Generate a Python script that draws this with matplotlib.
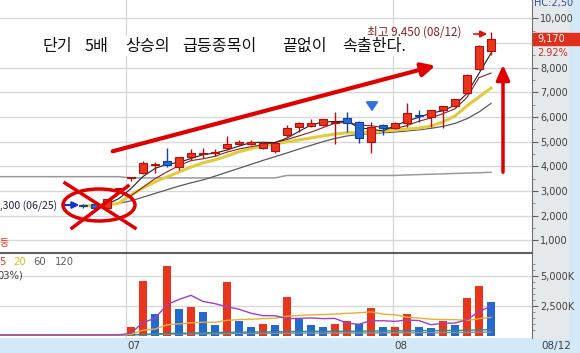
import numpy as np
import pandas as pd
import matplotlib
matplotlib.use("Agg")
import matplotlib.pyplot as plt
from matplotlib.patches import Ellipse, Rectangle

plt.rcParams['font.family'] = ['Noto Sans CJK KR', 'DejaVu Sans']

nan = np.nan
# one entry per trading day, 06/10 .. 08/12 (index 0..41)
opens = [nan]*7 + [2450, 2470, 2311, 3075, 3540, 3742, 4040, 4229, 3961, 4366, 4480, 4530, 4740, 4905, 4905,
                   4756, 4634, 5270, 5582, 5636, 5675, 5760, 5947, 5810, 4999, 5675, 5542, 5744, 6060, 6013,
                   6283, 6445, 6985, 7945, 8687]
highs = [nan]*7 + [2480, 2480, 2690, 3075, 3540, 4200, 4188, 4731, 4380, 4690, 4731, 4700, 5220, 5050, 5050,
                   4960, 4990, 5675, 5780, 5920, 5930, 6200, 6215, 5830, 5810, 5700, 5800, 6555, 6283, 6300,
                   6460, 6740, 7743, 8900, 9450]
lows = [nan]*7 + [2300, 2310, 2300, 3075, 3400, 3700, 3718, 3985, 3852, 4257, 4326, 4400, 4650, 4850, 4880,
                  4700, 4550, 5200, 5400, 5600, 5650, 4900, 5404, 4934, 4528, 5270, 5500, 5607, 5810, 5607,
                  5542, 6400, 6950, 7900, 8513]
closes = [nan]*7 + [2400, 2330, 2676, 3075, 3540, 4147, 4060, 4054, 4366, 4529, 4520, 4560, 4900, 5000, 4990,
                    4932, 4960, 5542, 5744, 5744, 5906, 5800, 5769, 5136, 5607, 5566, 5769, 6174, 6020, 6283,
                    6445, 6717, 7702, 8877, 9170]

ma3 = [nan]*9 + [2469, 2694, 3097, 3587, 3914, 4085, 4158, 4316, 4472, 4536, 4660, 4820, 4963, 4974, 4961,
                 5145, 5415, 5677, 5798, 5817, 5825, 5568, 5504, 5436, 5647, 5836, 5988, 6159, 6249, 6482,
                 6955, 7765, 8583]
ma5 = [nan]*11 + [2804, 3154, 3498, 3774, 4032, 4230, 4305, 4406, 4575, 4702, 4794, 4876, 4968, 5085, 5234,
                  5384, 5568, 5747, 5793, 5671, 5644, 5576, 5529, 5652, 5827, 5962, 6138, 6328, 6793, 7591, 7782]
ma20 = [nan]*7 + [2400, 2400, 2430, 2510, 2840, 3120, 3370, 3570, 3770, 3970, 4140, 4260, 4420, 4590, 4710,
                  4830, 4910, 4990, 5070, 5150, 5230, 5310, 5360, 5360, 5390, 5430, 5470, 5510, 5550, 5630,
                  5800, 6040, 6450, 6810, 7170]
ma60 = [nan]*10 + [2500, 2600, 2750, 2900, 3050, 3200, 3330, 3450, 3600, 3760, 3920, 4080, 4240, 4390, 4540,
                   4700, 4850, 5000, 5130, 5230, 5290, 5330, 5360, 5390, 5430, 5480, 5540, 5620, 5740, 5930,
                   6200, 6550]
ma120 = [3580]*11 + [3530]*13 + [3630]*10 + [3650, 3665, 3680, 3695, 3710, 3725, 3740, 3760]

# volume in thousand shares
volume = [40, 40, 40, 40, 40, 40, 40, 45, 50, 100, 60, 680, 4580, 1810, 5870, 2230, 2420, 2000, 880, 4530,
          1250, 715, 970, 880, 3270, 1390, 880, 680, 970, 1250, 970, 2340, 680, 715, 1810, 740, 600, 1250,
          850, 3180, 4170, 2850]
vol_ma60 = [40]*11 + [60, 100, 120, 170, 190, 210, 230, 240, 270, 280, 290, 300, 305, 330, 340, 345, 350,
                      355, 360, 365, 380, 385, 390, 400, 405, 410, 420, 425, 445, 470, 490]
vol_ma120 = [50]*11 + [55, 75, 85, 115, 125, 135, 145, 150, 165, 170, 175, 180, 185, 195, 200, 205, 205,
                       210, 215, 215, 225, 225, 230, 235, 240, 240, 245, 250, 260, 275, 285]

month_pos = [10.58, 32.83]
month_labels = ['07', '08']
price_ticks = [1000, 2000, 3000, 4000, 5000, 6000, 7000, 8000, 9000, 10000]
vol_ticks = [2500, 5000]

x = np.arange(len(volume))
o, h, l, c = (np.array(a, dtype=float) for a in (opens, highs, lows, closes))
vol = np.array(volume, dtype=float)

RED = '#e8351c'
BLUE = '#2468d2'
W, H = 580, 353

fig = plt.figure(figsize=(5.8, 3.53), dpi=100)
fig.patch.set_facecolor('#d3e9f8')
# light grey strip behind the right-hand scale
fig.patches.append(Rectangle((532 / W, 1 - 338 / H), 36 / W, 338 / H, transform=fig.transFigure,
                             color='#e6e9ec', zorder=-5))

axp = fig.add_axes([0, 1 - 253 / H, 532 / W, 253 / H])
axv = fig.add_axes([0, 1 - 338 / H, 532 / W, 85 / H])
for ax in (axp, axv):
    ax.set_xlim(0.083, 44.42)
    ax.set_facecolor('white')
    ax.tick_params(axis='x', bottom=False, labelbottom=False)
    ax.yaxis.tick_right()
    ax.tick_params(axis='y', direction='out', length=4, color='#606060', labelsize=7,
                   labelcolor='#404040', pad=2)
    for s in ('left', 'top', 'bottom'):
        ax.spines[s].set_visible(False)
    ax.spines['right'].set_color('#707070')
    for m in month_pos:
        ax.axvline(m, color='#d8d8d8', lw=1, zorder=0)

# price panel (the 9,000 label sits under the current-price box)
axp.set_ylim(486, 10742)
axp.set_yticks(price_ticks)
axp.set_yticklabels(['' if t == 9000 else f'{t:,}' for t in price_ticks], family='DejaVu Sans')
axp.set_yticks(np.arange(1500, 10500, 1000), minor=True)
axp.tick_params(axis='y', which='minor', length=2, color='#808080')
for t in price_ticks:
    if t == 9000:
        axp.axhline(t, xmin=0.93, color='#d8d8d8', lw=1, zorder=0)
    else:
        axp.axhline(t, color='#d8d8d8', lw=1, zorder=0)

axp.plot(x, ma120, color='#9a9a9a', lw=1.1, zorder=2)
axp.plot(x, ma60, color='#5a5a5a', lw=0.9, zorder=2)
axp.plot(x, ma20, color='#e2cc3c', lw=2.2, zorder=2)
axp.plot(x, ma5, color='#8a2020', lw=0.8, zorder=2)
axp.plot(x, ma3, color='#202020', lw=0.8, zorder=2)

up = c >= o
cols = np.where(up, RED, BLUE)
edges = np.where(up, '#b01010', '#1040a0')
axp.vlines(x, l, h, colors=edges, lw=1, zorder=3)
body = np.maximum(np.abs(c - o), 40)
axp.bar(x, body, bottom=np.minimum(o, c), width=0.72, color=cols, edgecolor=edges, lw=0.8, zorder=4)

# volume panel
axv.set_ylim(-210, 6944)
axv.set_yticks(vol_ticks)
axv.set_yticklabels(['2,500K', '5,000K'], family='DejaVu Sans')
axv.set_yticks(np.arange(500, 6500, 500), minor=True)
axv.tick_params(axis='y', which='minor', length=2, color='#808080')
for t in vol_ticks:
    axv.axhline(t, color='#d8d8d8', lw=1, zorder=0)
axv.spines['top'].set_visible(True)
axv.spines['top'].set_color('#606060')
axv.spines['top'].set_linewidth(1.5)
vcol = [BLUE] + [RED if vol[i] > vol[i - 1] else BLUE for i in range(1, len(vol))]
axv.bar(x, vol, width=0.72, color=vcol, edgecolor='none', zorder=2)
vs = pd.Series(vol)
axv.plot(x, vol_ma120, color='#8c8c8c', lw=1, zorder=3)
axv.plot(x, vol_ma60, color='#2b8c8c', lw=1, zorder=3)
axv.plot(x, vs.rolling(20, min_periods=1).mean(), color='#e8b030', lw=1, zorder=3)
axv.plot(x, vs.rolling(5, min_periods=1).mean(), color='#a040c0', lw=1, zorder=3)

leg_y = 1 - 9 / 85
for txt, px, col in [('5', -1, RED), ('20', 13, '#d4bc20'), ('60', 33, '#606060'), ('120', 55, '#606060')]:
    axv.text(px / 532, leg_y, txt, color=col, fontsize=7.2, transform=axv.transAxes, va='center',
             family='DejaVu Sans')
axv.text(-3 / 532, 1 - 22 / 85, '03%)', color='#404040', fontsize=7.2, transform=axv.transAxes,
         va='center', family='DejaVu Sans')

# date labels on the bottom strip
for m, lab in zip(month_pos, month_labels):
    fig.text((m * 12 - 1) / W + 0.002, 1 - 346 / H, lab, fontsize=7.5, color='#404040',
             va='center', family='DejaVu Sans')
fig.text(541 / W, 1 - 346 / H, '08/12', fontsize=7.5, color='#404040', va='center', family='DejaVu Sans')

# current price box
fig.patches.append(Rectangle((533 / W, 1 - 45 / H), 47 / W, 12 / H, transform=fig.transFigure,
                             color='#e0301c', zorder=5))
fig.text(537 / W, 1 - 39 / H, '9,170', color='white', fontsize=7, va='center', family='DejaVu Sans',
         zorder=6)
fig.text(537 / W, 1 - 52.5 / H, '2.92%', color='#c83020', fontsize=7, va='center', family='DejaVu Sans')
fig.text(534 / W, 1 - 3 / H, 'HC:2,50', color='#3050a0', fontsize=7, va='center', family='DejaVu Sans')

# headline and annotations
words = ['단기', '5배', '상승의', '급등종목이', '끝없이', '속출한다.']
starts = [42, 85, 125, 182, 282, 342]
for wd, sx in zip(words, starts):
    axp.text(sx / 532, 1 - 46 / 253, wd, fontsize=11.6, color='#111111', va='center', ha='left',
             transform=axp.transAxes, zorder=8,
             bbox=dict(boxstyle='square,pad=0.12', facecolor='white', edgecolor='none'))
axp.text(367 / 532, 1 - 32 / 253, '최고 9,450 (08/12)', fontsize=8.4, color='#8a2020', va='center',
         transform=axp.transAxes, zorder=7)
axp.annotate('', xy=(490 / 532, 1 - 34 / 253), xytext=(471 / 532, 1 - 34 / 253),
             xycoords='axes fraction', arrowprops=dict(arrowstyle='-|>', color='#e01010', lw=1.2))
axp.text(57 / 532, 1 - 205 / 253, '최저 2,300 (06/25)', fontsize=7.6, color='#202048', va='center',
         ha='right', transform=axp.transAxes, zorder=7)
axp.annotate('', xy=(82 / 532, 1 - 205 / 253), xytext=(62 / 532, 1 - 205 / 253),
             xycoords='axes fraction', arrowprops=dict(arrowstyle='-|>', color='#1030d0', lw=1.5))
axp.text(-1 / 532, 1 - 243 / 253, '등', fontsize=7, color=RED, va='center', transform=axp.transAxes)

axp.annotate('', xy=(438 / 532, 1 - 65 / 253), xytext=(110 / 532, 1 - 152 / 253),
             xycoords='axes fraction',
             arrowprops=dict(arrowstyle='-|>,head_length=0.8,head_width=0.4', color='#e00000', lw=3))
axp.annotate('', xy=(503 / 532, 1 - 62 / 253), xytext=(503 / 532, 1 - 175 / 253),
             xycoords='axes fraction',
             arrowprops=dict(arrowstyle='-|>,head_length=0.9,head_width=0.4', color='#e00000', lw=2.5))
axp.annotate('', xy=(372 / 532, 1 - 113 / 253), xytext=(372 / 532, 1 - 99 / 253),
             xycoords='axes fraction',
             arrowprops=dict(arrowstyle='simple,head_length=0.6,head_width=0.8,tail_width=0.35',
                             color='#3070e0'))
axp.add_patch(Ellipse((99 / 532, 1 - 205 / 253), 72 / 532, 32 / 253, transform=axp.transAxes,
                      fill=False, edgecolor='#e00000', lw=2.5, zorder=9))
axp.plot([65 / 532, 135 / 532], [1 - 183 / 253, 1 - 228 / 253], color='#e00000', lw=2.5,
         transform=axp.transAxes, zorder=9)
axp.plot([128 / 532, 72 / 532], [1 - 186 / 253, 1 - 228 / 253], color='#e00000', lw=2.5,
         transform=axp.transAxes, zorder=9)

fig.savefig('out.png', dpi=100, facecolor=fig.get_facecolor())
